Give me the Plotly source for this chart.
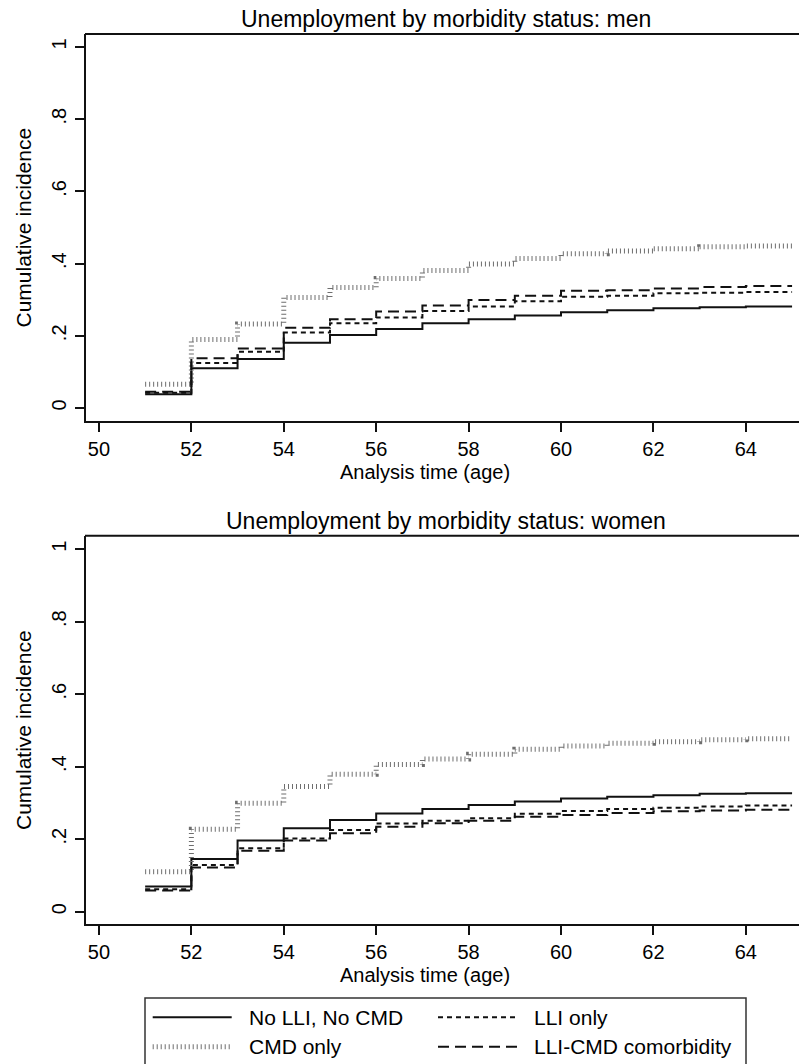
import plotly.graph_objects as go

# ---------------- data ----------------
ages = [51, 52, 53, 54, 55, 56, 57, 58, 59, 60, 61, 62, 63, 64, 65]

series_names = ["No LLI, No CMD", "CMD only", "LLI only", "LLI-CMD comorbidity"]

men_none = [0.038, 0.110, 0.136, 0.181, 0.202, 0.219, 0.235, 0.246, 0.256, 0.265, 0.271, 0.276, 0.279, 0.281]
men_cmd = [0.066, 0.190, 0.233, 0.306, 0.334, 0.359, 0.381, 0.399, 0.414, 0.427, 0.435, 0.441, 0.447, 0.449]
men_lli = [0.042, 0.125, 0.156, 0.209, 0.235, 0.251, 0.269, 0.281, 0.296, 0.308, 0.311, 0.318, 0.319, 0.321]
men_both = [0.045, 0.138, 0.165, 0.222, 0.246, 0.267, 0.284, 0.299, 0.311, 0.325, 0.326, 0.331, 0.335, 0.338]

women_none = [0.069, 0.145, 0.196, 0.230, 0.253, 0.271, 0.283, 0.294, 0.304, 0.312, 0.317, 0.321, 0.325, 0.327]
women_cmd = [0.110, 0.227, 0.299, 0.345, 0.379, 0.406, 0.421, 0.434, 0.448, 0.457, 0.465, 0.469, 0.474, 0.477]
women_lli = [0.062, 0.129, 0.175, 0.202, 0.225, 0.243, 0.251, 0.258, 0.270, 0.278, 0.283, 0.287, 0.290, 0.293]
women_both = [0.058, 0.122, 0.168, 0.196, 0.216, 0.234, 0.244, 0.251, 0.262, 0.267, 0.272, 0.277, 0.279, 0.281]

x_ticks = [50, 52, 54, 56, 58, 60, 62, 64]
y_ticks = [0, 0.2, 0.4, 0.6, 0.8, 1]
y_ticktext = ["0", ".2", ".4", ".6", ".8", "1"]

titles = ["Unemployment by morbidity status: men", "Unemployment by morbidity status: women"]
x_title = "Analysis time (age)"
y_title = "Cumulative incidence"

# ---------------- styling ----------------
W, H = 799, 1064
FONT = "Arial, 'Liberation Sans', Helvetica, sans-serif"
BLACK = "#111111"
styles = {
    "No LLI, No CMD": dict(color=BLACK, width=2, dash="solid"),
    "CMD only": dict(color="#6e6e6e", width=5, dash="1px,3px"),
    "LLI only": dict(color=BLACK, width=2, dash="5px,4px"),
    "LLI-CMD comorbidity": dict(color=BLACK, width=2, dash="11px,6px"),
}

def px(x):
    return x / W

def py(y):
    return 1 - y / H

fig = go.Figure()

panels = [
    ("x", "y", [men_none, men_cmd, men_lli, men_both], (34, 421), [-0.036, 1.036]),
    ("x2", "y2", [women_none, women_cmd, women_lli, women_both], (535.7, 924.3), [-0.035, 1.0375]),
]

for xa, ya, data, _, _ in panels:
    for name, vals in zip(series_names, data):
        fig.add_trace(go.Scatter(
            x=ages, y=list(vals) + [vals[-1]],
            mode="lines", line=dict(shape="hv", **styles[name]),
            name=name, showlegend=False, xaxis=xa, yaxis=ya,
            hoverinfo="skip",
        ))

axis_common = dict(
    showline=True, linecolor=BLACK, linewidth=2,
    ticks="outside", ticklen=9, tickwidth=2, tickcolor=BLACK,
    showgrid=False, zeroline=False,
    tickfont=dict(family=FONT, size=20, color="black"),
)

layout = dict(
    width=W, height=H, margin=dict(l=0, r=0, t=0, b=0),
    paper_bgcolor="white", plot_bgcolor="white", showlegend=False,
    font=dict(family=FONT, color="black"),
)

annotations = []
for i, (xa, ya, data, (top, bot), yr) in enumerate(panels):
    suffix = "" if i == 0 else "2"
    layout["xaxis" + suffix] = dict(
        axis_common, domain=[px(86), 1], range=[49.72, 65.15],
        tickvals=x_ticks, mirror=False, anchor="y" + suffix,
        ticklabelstandoff=0,
    )
    layout["yaxis" + suffix] = dict(
        axis_common, domain=[py(bot), py(top)], range=yr,
        tickvals=y_ticks, ticktext=y_ticktext, tickangle=-90,
        anchor="x" + suffix, ticklabelstandoff=1,
    )
    annotations.append(dict(
        text=titles[i], xref="paper", yref="paper",
        x=px(446), y=py(top - 15), xanchor="center", yanchor="middle",
        showarrow=False, font=dict(family=FONT, size=23, color="black"),
    ))
    annotations.append(dict(
        text=x_title, xref="paper", yref="paper",
        x=px(425), y=py(bot + 51), xanchor="center", yanchor="middle",
        showarrow=False, font=dict(family=FONT, size=20, color="black"),
    ))
    annotations.append(dict(
        text=y_title, xref="paper", yref="paper", textangle=-90,
        x=px(23), y=py((top + bot) / 2), xanchor="center", yanchor="middle",
        showarrow=False, font=dict(family=FONT, size=21, color="black"),
    ))

shapes = []
# top frame lines
for i, (xa, ya, data, (top, bot), yr) in enumerate(panels):
    shapes.append(dict(type="line", xref="paper", yref="paper",
                       x0=px(85), x1=1.0, y0=py(top), y1=py(top),
                       line=dict(color=BLACK, width=2)))

# legend box
shapes.append(dict(type="rect", xref="paper", yref="paper",
                   x0=px(145), x1=px(746), y0=py(1080), y1=py(998),
                   line=dict(color="#333333", width=1.5), fillcolor="rgba(0,0,0,0)"))
legend_pos = [
    ("No LLI, No CMD", 152.7, 231.7, 246.7, 1017.3),
    ("LLI only", 438, 517, 531.7, 1017.3),
    ("CMD only", 152.7, 231.7, 246.7, 1046.7),
    ("LLI-CMD comorbidity", 438, 517, 531.7, 1046.7),
]
for name, x0, x1, xt, yy in legend_pos:
    st = styles[name]
    shapes.append(dict(type="line", xref="paper", yref="paper",
                       x0=px(x0), x1=px(x1), y0=py(yy), y1=py(yy),
                       line=dict(color=st["color"], width=st["width"], dash=st["dash"])))
    annotations.append(dict(
        text=name, xref="paper", yref="paper", x=px(xt), y=py(yy),
        xanchor="left", yanchor="middle", showarrow=False,
        font=dict(family=FONT, size=21, color="black"),
    ))

layout["annotations"] = annotations
layout["shapes"] = shapes
fig.update_layout(**layout)

fig.write_html("out.html", config={"displayModeBar": False},
               post_script="document.body.style.margin='0';")
